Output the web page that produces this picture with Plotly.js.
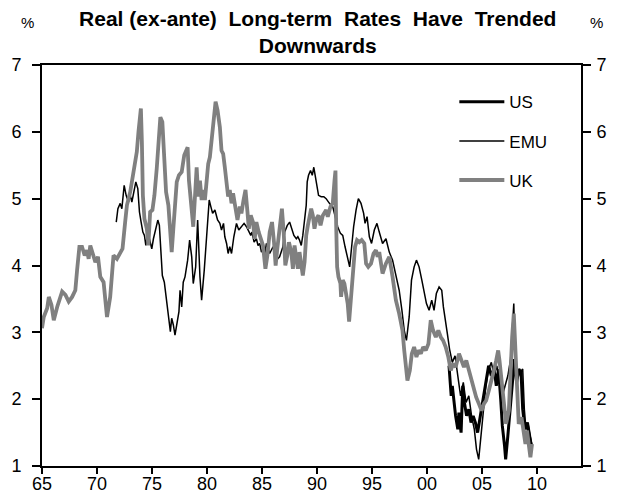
<!DOCTYPE html>
<html>
<head>
<meta charset="utf-8">
<script src="https://cdn.plot.ly/plotly-3.0.1.min.js"></script>
<style>html,body{margin:0;padding:0;background:#fff;}#chart{width:617px;height:493px;}</style>
</head>
<body>
<div id="chart"></div>
<script>
// ---- Data ----
const ukYears = [1965.00,1965.16,1965.47,1965.62,1965.86,1966.07,1966.38,1966.83,1967.13,1967.43,1967.74,1968.03,1968.19,1968.40,1968.64,1968.88,1969.09,1969.24,1969.39,1969.60,1969.85,1970.09,1970.30,1970.60,1970.91,1971.20,1971.36,1971.50,1971.81,1972.11,1972.32,1972.56,1972.72,1973.02,1973.17,1973.41,1973.62,1973.77,1973.99,1974.08,1974.17,1974.31,1974.53,1974.67,1974.83,1975.04,1975.22,1975.43,1975.64,1975.76,1975.94,1976.12,1976.28,1976.49,1976.64,1976.79,1976.94,1977.09,1977.25,1977.45,1977.70,1977.93,1978.24,1978.36,1978.45,1978.61,1978.75,1978.90,1979.06,1979.20,1979.36,1979.51,1979.66,1979.81,1979.96,1980.11,1980.26,1980.42,1980.56,1980.78,1980.96,1981.17,1981.32,1981.47,1981.62,1981.78,1981.92,1982.07,1982.23,1982.37,1982.59,1982.77,1982.98,1983.13,1983.32,1983.50,1983.68,1983.80,1983.98,1984.18,1984.34,1984.49,1984.70,1984.88,1985.09,1985.31,1985.49,1985.70,1985.91,1986.09,1986.24,1986.39,1986.60,1986.81,1986.97,1987.12,1987.30,1987.45,1987.66,1987.81,1987.96,1988.12,1988.26,1988.41,1988.57,1988.71,1988.87,1989.02,1989.17,1989.32,1989.47,1989.62,1989.77,1989.95,1990.14,1990.32,1990.53,1990.83,1990.98,1991.22,1991.43,1991.59,1991.68,1991.74,1991.83,1991.95,1992.13,1992.19,1992.34,1992.49,1992.64,1992.79,1992.92,1993.03,1993.15,1993.33,1993.46,1993.64,1993.85,1994.06,1994.30,1994.46,1994.66,1994.91,1995.14,1995.36,1995.51,1995.66,1995.96,1996.27,1996.57,1996.87,1997.17,1997.47,1997.77,1997.93,1998.08,1998.22,1998.44,1998.62,1998.83,1999.04,1999.22,1999.44,1999.65,1999.89,2000.13,2000.34,2000.55,2000.80,2001.03,2001.25,2001.46,2001.70,2001.94,2002.16,2002.36,2002.61,2002.91,2003.15,2003.36,2003.57,2003.81,2004.06,2004.27,2004.47,2004.72,2004.96,2005.17,2005.38,2005.62,2005.87,2006.08,2006.29,2006.47,2006.59,2006.77,2006.98,2007.19,2007.44,2007.59,2007.74,2007.89,2008.04,2008.19,2008.34,2008.59,2008.80,2008.95,2009.09,2009.25,2009.40,2009.55];
const ukValues = [3.06,3.23,3.36,3.53,3.41,3.18,3.38,3.61,3.56,3.46,3.53,3.63,3.93,4.28,4.28,4.15,4.23,4.10,4.30,4.18,4.05,4.13,3.83,3.75,3.23,3.53,3.86,4.15,4.10,4.20,4.25,4.65,4.90,5.10,5.25,5.45,5.70,6.00,6.35,5.85,5.05,4.70,4.55,4.30,4.80,4.83,5.05,5.45,5.95,6.22,6.15,5.55,5.10,4.90,4.55,4.20,4.55,4.95,5.25,5.35,5.40,5.65,5.77,5.27,5.03,4.83,4.58,4.93,5.47,5.03,5.27,4.98,5.13,4.98,5.32,5.52,5.62,5.87,6.22,6.45,6.32,6.07,5.72,5.67,5.47,5.17,5.03,5.13,4.93,5.08,4.83,4.68,4.88,4.78,4.98,5.13,4.80,4.55,4.75,4.65,4.40,4.65,4.50,4.40,4.30,3.95,4.15,4.50,4.65,4.35,4.00,4.25,4.55,4.85,4.50,4.00,4.15,4.35,4.20,3.95,4.30,4.10,3.95,4.20,3.95,3.85,4.05,4.45,4.60,4.70,4.85,4.75,4.55,4.70,4.75,4.60,4.75,4.83,4.73,4.88,4.93,5.27,5.42,4.63,3.98,3.83,3.73,3.53,3.78,3.73,3.58,3.43,3.16,3.38,3.68,3.88,4.28,4.38,4.35,4.38,4.33,4.03,3.98,4.03,4.18,4.23,4.13,4.20,3.88,4.03,4.13,3.83,3.48,3.28,3.03,2.73,2.43,2.28,2.43,2.68,2.78,2.63,2.73,2.68,2.78,2.73,2.83,3.18,3.03,2.93,3.03,2.93,2.88,2.78,2.63,2.43,2.53,2.48,2.68,2.58,2.48,2.58,2.43,2.28,2.18,2.03,1.93,1.83,1.93,1.98,2.13,2.33,2.43,2.58,2.73,2.58,2.33,1.93,1.63,1.83,2.43,2.93,3.28,2.63,1.93,1.63,1.73,1.48,1.33,1.53,1.28,1.13,1.33];

const emuYears = [1971.75,1971.90,1972.11,1972.26,1972.47,1972.65,1972.86,1973.02,1973.17,1973.32,1973.53,1973.71,1973.86,1974.01,1974.17,1974.31,1974.44,1974.62,1974.83,1974.98,1975.13,1975.34,1975.53,1975.67,1975.82,1975.94,1976.12,1976.25,1976.43,1976.55,1976.67,1976.79,1976.94,1977.09,1977.27,1977.45,1977.55,1977.70,1977.84,1978.00,1978.24,1978.42,1978.61,1978.75,1978.97,1979.15,1979.36,1979.51,1979.75,1979.96,1980.20,1980.35,1980.51,1980.72,1980.96,1981.17,1981.32,1981.50,1981.62,1981.78,1981.92,1982.07,1982.23,1982.44,1982.68,1982.89,1983.13,1983.37,1983.59,1983.80,1983.98,1984.09,1984.28,1984.49,1984.64,1984.79,1984.95,1985.09,1985.24,1985.40,1985.70,1986.00,1986.30,1986.60,1986.90,1987.06,1987.30,1987.51,1987.66,1987.90,1988.12,1988.26,1988.41,1988.57,1988.71,1988.87,1989.02,1989.11,1989.23,1989.41,1989.57,1989.71,1989.84,1990.02,1990.14,1990.38,1990.62,1990.83,1991.13,1991.43,1991.74,1991.88,1992.13,1992.34,1992.55,1992.79,1992.97,1993.15,1993.33,1993.55,1993.76,1994.00,1994.24,1994.37,1994.55,1994.76,1994.96,1995.21,1995.45,1995.66,1995.96,1996.27,1996.57,1996.87,1997.17,1997.47,1997.72,1997.93,1998.13,1998.38,1998.59,1998.83,1999.04,1999.28,1999.53,1999.74,1999.95,2000.19,2000.43,2000.64,2000.85,2001.10,2001.34,2001.49,2001.64,2001.85,2002.05,2002.30,2002.55,2002.80,2003.05,2003.30,2003.55,2003.80,2004.05,2004.30,2004.50,2004.70,2004.90,2005.10,2005.35,2005.60,2005.85,2006.10,2006.35,2006.60,2006.85,2007.10,2007.35,2007.60,2007.80,2007.89,2008.00,2008.20,2008.45,2008.70,2008.85,2009.00,2009.20,2009.40,2009.55];
const emuValues = [4.65,4.85,4.93,4.85,5.20,5.05,4.95,5.05,4.95,5.10,5.25,5.15,4.80,4.65,4.50,4.45,4.30,4.50,4.35,4.25,4.40,4.55,4.68,4.60,4.25,3.85,3.75,3.56,3.31,3.16,3.01,3.21,3.11,2.96,3.16,3.31,3.63,3.38,3.75,3.83,4.08,4.38,4.13,3.73,3.98,4.68,3.83,3.48,3.93,4.43,4.98,4.88,4.78,4.83,4.68,4.63,4.53,4.63,4.43,4.33,4.18,4.28,4.18,4.43,4.63,4.53,4.58,4.63,4.58,4.50,4.45,4.50,4.35,4.40,4.30,4.33,4.20,4.25,4.15,4.33,4.18,4.28,4.08,4.13,4.28,4.50,4.60,4.65,4.58,4.45,4.40,4.43,4.38,4.30,4.45,4.65,4.90,5.25,5.35,5.42,5.35,5.47,5.35,5.15,5.05,5.03,5.03,5.00,4.93,4.88,4.68,4.58,4.48,4.45,4.28,4.13,3.98,4.28,4.58,4.83,5.00,4.93,4.78,4.63,4.73,4.43,4.33,4.53,4.63,4.50,4.33,4.40,4.20,4.08,3.83,3.63,3.33,3.03,2.88,3.23,3.78,3.98,4.08,3.98,3.78,3.63,3.43,3.33,3.48,3.33,3.58,3.68,3.63,3.38,3.23,2.98,2.75,2.55,2.65,2.35,2.05,2.25,1.95,2.05,1.75,1.55,1.25,1.10,1.45,1.85,2.20,2.45,2.55,2.35,2.50,2.25,2.05,2.20,2.35,2.60,3.10,3.43,2.70,2.30,2.40,2.45,1.85,1.55,1.65,1.45,1.30];

const usYears = [2002.00,2002.10,2002.20,2002.30,2002.45,2002.60,2002.80,2002.90,2003.10,2003.25,2003.40,2003.60,2003.80,2004.00,2004.20,2004.40,2004.60,2004.80,2005.00,2005.20,2005.40,2005.60,2005.85,2006.10,2006.30,2006.50,2006.70,2006.85,2007.05,2007.15,2007.35,2007.55,2007.75,2007.95,2008.15,2008.35,2008.55,2008.70,2008.90,2009.10,2009.30,2009.50];
const usValues = [2.50,2.30,2.05,2.20,1.95,1.75,1.55,1.80,1.50,2.20,1.95,1.75,1.85,1.65,1.75,1.65,1.50,1.70,1.90,2.10,2.35,2.50,2.35,2.45,2.20,2.45,2.00,1.60,1.30,1.10,1.45,1.85,2.30,2.60,2.25,2.45,2.40,1.85,1.55,1.65,1.45,1.30];

const xTickVals = [1965,1970,1975,1980,1985,1990,1995,2000,2005,2010];
const xTickText = ['65','70','75','80','85','90','95','00','05','10'];
const yTickVals = [1,2,3,4,5,6,7];

const FONT = 'Liberation Sans, Arial, Helvetica, sans-serif';

const traces = [
  {x: usYears, y: usValues, name: 'US', type: 'scatter', mode: 'lines',
   line: {color: '#000000', width: 3}, legendgroup: 'us'},
  {x: emuYears, y: emuValues, name: 'EMU', type: 'scatter', mode: 'lines',
   line: {color: '#000000', width: 1.5}, legendgroup: 'emu'},
  {x: ukYears, y: ukValues, name: 'UK', type: 'scatter', mode: 'lines',
   line: {color: '#808080', width: 3.8}, legendgroup: 'uk'},
  {x: [], y: [], yaxis: 'y2', showlegend: false, hoverinfo: 'skip', type: 'scatter', mode: 'lines'}
];

const layout = {
  width: 617, height: 493,
  margin: {l: 41.5, r: 35.7, t: 64.5, b: 27, pad: 0},
  paper_bgcolor: '#ffffff', plot_bgcolor: '#ffffff',
  font: {family: FONT, size: 17, color: '#000000'},
  showlegend: true,
  title: {
    text: '<b>Real (ex-ante)  Long-term  Rates  Have  Trended</b><br><b>Downwards</b>',
    x: 0.515, xanchor: 'center', y: 0.948, yanchor: 'top',
    font: {family: FONT, size: 21, color: '#000000'}
  },
  xaxis: {
    range: [1965, 2014], showgrid: false, zeroline: false,
    showline: true, linecolor: '#000', linewidth: 2, mirror: true,
    ticks: 'outside', ticklen: 6, tickwidth: 2, tickcolor: '#000',
    tickvals: xTickVals, ticktext: xTickText, ticklabelstandoff: -6,
    tickfont: {family: FONT, size: 18, color: '#000'}
  },
  yaxis: {
    range: [1, 7], showgrid: false, zeroline: false,
    showline: true, linecolor: '#000', linewidth: 2,
    ticks: 'outside', ticklen: 8, tickwidth: 2, tickcolor: '#000',
    tickvals: yTickVals, ticklabelstandoff: 7,
    tickfont: {family: FONT, size: 18, color: '#000'}
  },
  yaxis2: {
    range: [1, 7], overlaying: 'y', side: 'right', showgrid: false, zeroline: false,
    showline: true, linecolor: '#000', linewidth: 2,
    ticks: 'outside', ticklen: 8, tickwidth: 2, tickcolor: '#000',
    tickvals: yTickVals, ticklabelstandoff: 2,
    tickfont: {family: FONT, size: 18, color: '#000'}
  },
  legend: {
    x: 0.765, y: 0.952, xanchor: 'left', yanchor: 'top',
    bgcolor: 'rgba(0,0,0,0)', borderwidth: 0,
    traceorder: 'grouped', tracegroupgap: 14,
    itemwidth: 45,
    font: {family: FONT, size: 17, color: '#000'}
  },
  annotations: [
    {text: '%', xref: 'paper', yref: 'paper', x: -0.027, y: 1.105, showarrow: false,
     xanchor: 'center', yanchor: 'middle', font: {family: FONT, size: 15, color: '#000'}},
    {text: '%', xref: 'paper', yref: 'paper', x: 1.029, y: 1.105, showarrow: false,
     xanchor: 'center', yanchor: 'middle', font: {family: FONT, size: 15, color: '#000'}}
  ]
};

Plotly.newPlot('chart', traces, layout, {displayModeBar: false, staticPlot: true});
</script>
</body>
</html>
